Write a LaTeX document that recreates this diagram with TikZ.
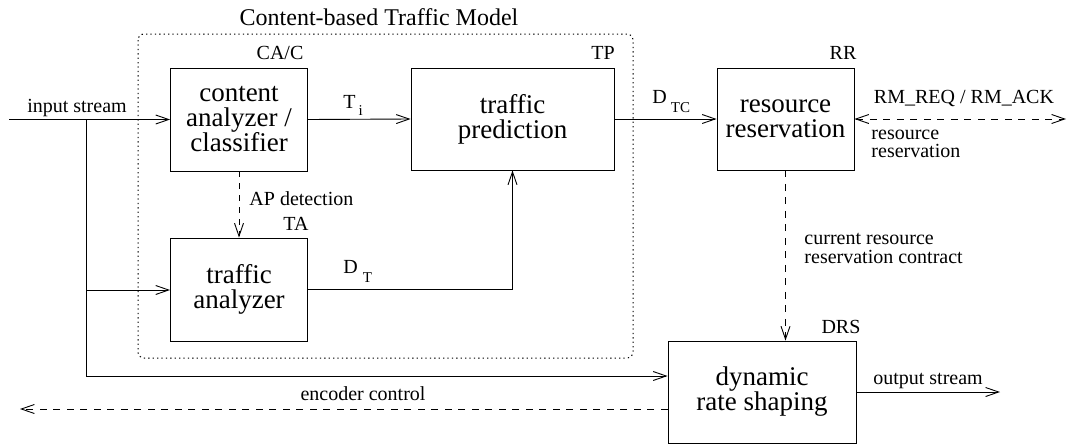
\documentclass[tikz,border=0pt]{standalone}
\usepackage{fontspec}
\setmainfont{Liberation Serif}
\newfontfamily\boxfont{Liberation Serif}
\usetikzlibrary{arrows.meta}

\newcommand{\subtxt}[1]{{\fontsize{15}{15}\selectfont #1}}

\begin{document}
\begin{tikzpicture}[x=1pt,y=-1pt,
  line width=0.9pt,
  block/.style={draw, rectangle, inner sep=0pt, align=center,
    font=\boxfont\fontsize{27}{25}\selectfont},
  lbl/.style={inner sep=0pt, font=\boxfont\fontsize{20}{18}\selectfont},
  arr/.style={-{Straight Barb[length=13pt,width=9pt,line width=0.9pt]}},
  dash7/.style={dash pattern=on 7pt off 6.5pt},
  groupline/.style={line width=1pt, dash pattern=on 1.3pt off 3.1pt, rounded corners=6pt}]

\useasboundingbox (0,0) rectangle (1068,445);

% processing blocks
\node[block, minimum width=137pt, minimum height=103pt] (cac) at (239,119.5)
  {content\\analyzer /\\classifier};
\node[block, minimum width=203pt, minimum height=102pt] (tp) at (512.5,119)
  {traffic\\prediction};
\node[block, minimum width=137pt, minimum height=102pt] (rr) at (785.5,119)
  {resource\\reservation};
\node[block, minimum width=137pt, minimum height=103pt] (ta) at (239,289.5)
  {traffic\\analyzer};
\node[block, minimum width=188pt, minimum height=102pt] (drs) at (762,392)
  {dynamic\\rate shaping};

% traffic model group
\draw[groupline] (138,34) rectangle (633,358);
\node[inner sep=0pt, anchor=base, font=\boxfont\fontsize{24}{24}\selectfont] (title)
  at (379,25) {Content-based Traffic Model};

% block tags
\node[lbl, anchor=base] (tcac) at (280,59) {CA/C};
\node[lbl, anchor=base] (ttp) at (603,59) {TP};
\node[lbl, anchor=base] (trr) at (843,59) {RR};
\node[lbl, anchor=base] (tta) at (296,230) {TA};
\node[lbl, anchor=base] (tdrs) at (841,333) {DRS};

% free ends of the connectors
\coordinate (in) at (9,119.5);
\coordinate (split) at (86,119.5);
\coordinate (rmend) at (1066,119);
\coordinate (encend) at (20,409);
\coordinate (outend) at (1000,392);
\coordinate (bta) at (86,290);
\coordinate (bdrs) at (86,376);

% input stream and its branches
\draw[arr] (in) -- (cac.west);
\draw (split) -- (bdrs);
\draw[arr] (bta) -- (bta -| ta.west);
\draw[arr] (bdrs) -- (bdrs -| drs.west);
\node[lbl, anchor=base] (lin) at (77,112) {input stream};

% inside the model
\draw[arr] (cac.east) -- (tp.west);
\node[lbl, anchor=base west] (lti) at (343,108) {T\hspace{3pt}\raisebox{-7pt}{\subtxt{i}}};
\draw[arr, dash pattern=on 6pt off 6pt] (cac.south) -- (ta.north);
\node[lbl, anchor=base west] (lap) at (249,205) {AP detection};
\draw[arr] (ta.east) -| (tp.south);
\node[lbl, anchor=base west] (ldt) at (343,273) {D\hspace{5pt}\raisebox{-9pt}{\subtxt{T}}};

% prediction to reservation
\draw[arr] (tp.east) -- (rr.west);
\node[lbl, anchor=base west] (ldtc) at (652,103) {D\hspace{4pt}\raisebox{-9pt}{\subtxt{TC}}};

% reservation signalling
\draw[dash7, {Straight Barb[length=13pt,width=9pt,line width=0.9pt]}-{Straight Barb[length=13pt,width=9pt,line width=0.9pt]}]
  (rr.east) -- (rmend);
\node[lbl, anchor=base] (lrm) at (964,103) {RM\_REQ / RM\_ACK};
\node[lbl, anchor=north west, align=left, font=\boxfont\fontsize{20}{18}\selectfont] (lres)
  at (871,130) {resource\\reservation};

% contract to the rate shaper
\draw[arr, dash7] (rr.south) -- (rr.south |- drs.north);
\node[lbl, anchor=north west, align=left, font=\boxfont\fontsize{20}{18.5}\selectfont] (lcon)
  at (804,233) {current resource\\reservation contract};

% rate shaper outputs
\draw[arr] (drs.east) -- (outend);
\node[lbl, anchor=base] (lout) at (928,384) {output stream};
\draw[arr, dash7] (drs.west |- encend) -- (encend);
\node[lbl, anchor=base] (lenc) at (363,400) {encoder control};

\end{tikzpicture}
\end{document}
